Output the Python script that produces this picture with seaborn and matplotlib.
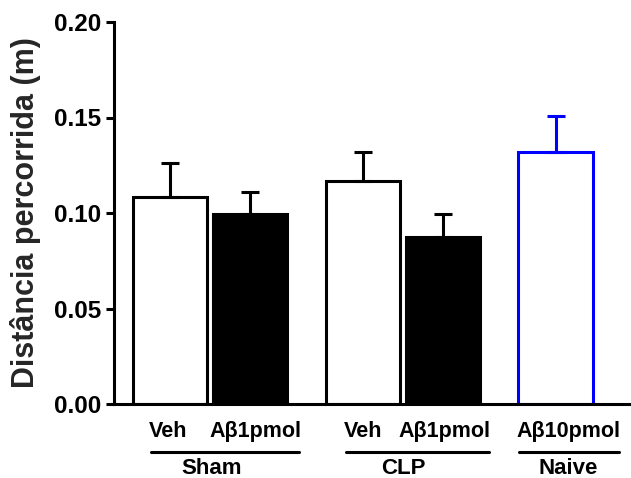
import numpy as np
import pandas as pd
import matplotlib
matplotlib.use("Agg")
import matplotlib.pyplot as plt
import matplotlib.transforms as mtransforms
from matplotlib.lines import Line2D
import seaborn as sns

# Data: mean distance travelled (m) with SEM, per treatment group
groups = ["Sham", "Sham", "CLP", "CLP", "Naive"]
treatments = ["Veh", "Aβ1pmol", "Veh", "Aβ1pmol", "Aβ10pmol"]
means = [0.1084, 0.0995, 0.1168, 0.0874, 0.1320]
sems = [0.0176, 0.0115, 0.0152, 0.0121, 0.0190]
group_names = ["Sham", "CLP", "Naive"]
y_ticks = [0.00, 0.05, 0.10, 0.15, 0.20]

# Styling
fills = ["white", "black", "white", "black", "white"]
edges = ["black", "black", "black", "black", "#0000ff"]
label_shift_px = [-2, 5, 0, 2, 13]
LW = 2.2

sns.set_theme(style="ticks")
plt.rcParams["font.family"] = ["Liberation Sans", "DejaVu Sans"]
plt.rcParams["font.weight"] = "bold"

# Bars within a group sit side by side; groups are separated by a gap
positions = []
x = 0.0
for g in group_names:
    n = groups.count(g)
    for _ in range(n):
        positions.append(x)
        x += 1.0
    x += 0.41
positions = [round(p, 4) for p in positions]

df = pd.DataFrame({"pos": positions, "mean": means, "group": groups,
                   "treatment": treatments})

fig = plt.figure(figsize=(6.31, 4.78), dpi=100)
ax = fig.add_axes([114 / 631, 1 - 404 / 478, 1 - 114 / 631, (404 - 22) / 478])

sns.barplot(data=df, x="pos", y="mean", native_scale=True, width=0.93,
            errorbar=None, ax=ax, zorder=2)

for patch, fc, ec in zip(ax.patches, fills, edges):
    patch.set_facecolor(fc)
    patch.set_edgecolor(ec)
    patch.set_linewidth(LW)

for xp, m, s, ec in zip(positions, means, sems, edges):
    ax.errorbar([xp], [m], yerr=[[0], [s]], fmt="none", ecolor=ec,
                elinewidth=LW, capsize=6.5, capthick=LW, zorder=3)

ax.set_xlim(-0.7, (631 - 170) / 80)
ax.set_ylim(0, 0.20)
ax.set_yticks(y_ticks)
ax.set_yticklabels([f"{t:.2f}" for t in y_ticks])
ax.set_xticks(positions)
ax.set_xticklabels(treatments)
ax.set_xlabel("")
ax.set_ylabel("Distância percorrida (m)", fontsize=22, fontweight="bold")
ax.yaxis.set_label_coords(-0.141, 0.50)

sns.despine(ax=ax)
for side in ["left", "bottom"]:
    ax.spines[side].set_linewidth(LW)
    ax.spines[side].set_color("black")
ax.tick_params(axis="y", length=6, width=LW, pad=3.5, labelsize=17.5,
               colors="black")
ax.tick_params(axis="x", length=0, pad=12, labelsize=15.5, colors="black")
for lbl in ax.get_yticklabels() + ax.get_xticklabels():
    lbl.set_fontweight("bold")

for lbl, dx in zip(ax.get_xticklabels(), label_shift_px):
    lbl.set_transform(lbl.get_transform() +
                      mtransforms.ScaledTranslation(dx / 100, 0, fig.dpi_scale_trans))

# Group underlines and names beneath the treatment labels
fig.canvas.draw()
renderer = fig.canvas.get_renderer()
W, H = fig.bbox.width, fig.bbox.height
ticklabels = ax.get_xticklabels()
for g in group_names:
    boxes = [ticklabels[i].get_window_extent(renderer)
             for i, gg in enumerate(groups) if gg == g]
    x0 = min(b.x0 for b in boxes) + 2
    x1 = max(b.x1 for b in boxes) - 2
    y_line = 1 - 452 / 478
    fig.add_artist(Line2D([x0 / W, x1 / W], [y_line, y_line], color="black",
                          linewidth=LW, transform=fig.transFigure))
    centers = [(b.x0 + b.x1) / 2 for b in boxes]
    fig.text(np.mean(centers) / W, 1 - 468 / 478, g, ha="center", va="center",
             fontsize=16, fontweight="bold", color="black")

fig.savefig("out.png", dpi=100)
